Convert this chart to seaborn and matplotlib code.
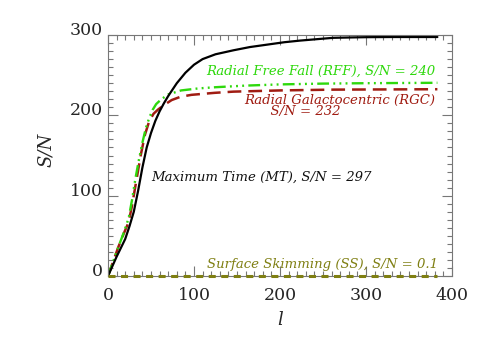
import matplotlib
matplotlib.use("Agg")
import matplotlib.pyplot as plt
import seaborn as sns
import numpy as np
import pandas as pd
from matplotlib.ticker import MultipleLocator

# ---- data ----
l_mt = [0, 5, 10, 15, 20, 25, 30, 35, 40, 45, 50, 55, 60, 65, 70, 80, 90, 100, 110,
        125, 146, 165, 185, 205, 223, 245, 262, 285, 301, 330, 360, 383]
sn_mt = [0, 12, 24, 35, 46, 62, 80, 106, 135, 160, 178, 193, 205, 215, 224, 240, 253,
         263, 270, 276, 281, 285, 288, 291, 293, 295, 296.5, 297, 297.3, 297.5, 297.5, 297.5]

l_rff = [0, 6, 12, 18, 24, 28, 32, 36, 40, 44, 48, 52, 56, 62, 70, 85, 105, 125, 160,
         200, 250, 300, 383]
sn_rff = [0, 18, 36, 53, 72, 95, 122, 145, 166, 184, 197, 207, 214, 220, 226, 231,
          233.5, 235, 237, 238.5, 239.5, 240, 240.5]

l_rgc = [0, 6, 12, 18, 24, 28, 33, 38, 43, 48, 53, 58, 64, 74, 84, 97, 124, 146, 200,
         262, 383]
sn_rgc = [0, 18, 36, 52, 67, 88, 119, 150, 176, 193, 202, 207, 212, 219, 223, 225.5,
          228, 229.5, 231, 232, 232.5]

l_ss = [0, 383]
sn_ss = [0.1, 0.1]

x_ticks = [0, 100, 200, 300, 400]
y_ticks = [0, 100, 200, 300]

lab_rff = "Radial Free Fall (RFF), S/N = 240"
lab_rgc = "Radial Galactocentric (RGC)\n      S/N = 232"
lab_mt = "Maximum Time (MT), S/N = 297"
lab_ss = "Surface Skimming (SS), S/N = 0.1"

# ---- plot ----
sns.set_style("ticks")
plt.rcParams["font.family"] = ["DejaVu Serif"]

W, H = 485, 346
fig = plt.figure(figsize=(W / 100, H / 100), dpi=100)
ax = fig.add_axes([108 / W, (H - 276) / H, (452 - 108) / W, (276 - 35) / H])

c_mt = "black"
c_rff = "#2ed80c"
c_rgc = "#a01c12"
c_ss = "#7f7f12"

sns.lineplot(x=l_ss, y=sn_ss, ax=ax, color=c_ss, lw=2.2, clip_on=False,
             linestyle=(0, (2.3, 1.8)), zorder=5)
sns.lineplot(x=l_rgc, y=sn_rgc, ax=ax, color=c_rgc, lw=1.8,
             linestyle=(0, (5.5, 2.8)))
sns.lineplot(x=l_rff, y=sn_rff, ax=ax, color=c_rff, lw=1.7,
             linestyle=(0, (5, 1.8, 0.8, 1.8, 0.8, 1.8, 0.8, 1.8)))
sns.lineplot(x=l_mt, y=sn_mt, ax=ax, color=c_mt, lw=1.6)

ax.set_xlim(0, 400)
ax.set_ylim(0, 300)
ax.set_xticks(x_ticks)
ax.set_yticks(y_ticks)
ax.xaxis.set_minor_locator(MultipleLocator(10))
ax.yaxis.set_minor_locator(MultipleLocator(10))
ax.tick_params(which="both", direction="in", top=True, right=True,
               color="#777777", width=0.8)
ax.tick_params(which="major", length=7)
ax.tick_params(which="minor", length=3.5)
ax.tick_params(axis="x", which="major", labelsize=12.5, pad=8)
ax.tick_params(axis="y", which="major", labelsize=12.5, pad=4)
for lab in ax.get_yticklabels():
    lab.set_verticalalignment("baseline")
for s in ax.spines.values():
    s.set_color("#777777")
    s.set_linewidth(0.8)

tkw = dict(fontstyle="italic", fontsize=9.5, family="DejaVu Serif",
           ha="center", va="center")
ax.text(247.7, 254.7, lab_rff, color=c_rff, **tkw)
ax.text(269.8, 211.6, lab_rgc, color=c_rgc, multialignment="left",
        linespacing=0.85, **tkw)
ax.text(178.7, 123, lab_mt, color="#111111", **tkw)
ax.text(249.2, 13.7, lab_ss, color=c_ss, **tkw)

fig.text(280 / W, 1 - 320 / H, "l", fontstyle="italic", fontsize=13,
         ha="center", va="center")
fig.text(46 / W, 1 - 150 / H, "S/N", fontstyle="italic", fontsize=13,
         ha="center", va="center", rotation=90)

fig.savefig("out.png", dpi=100)
